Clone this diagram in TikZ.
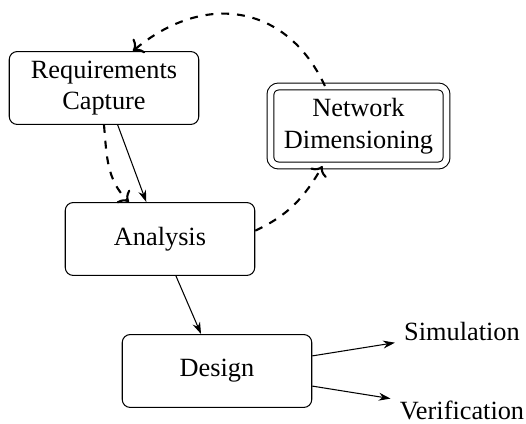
\documentclass[tikz,border=0pt]{standalone}
\usepackage{fontspec}
\setmainfont{Liberation Serif}
\usetikzlibrary{arrows.meta}
\begin{document}
\begin{tikzpicture}[x=0.38pt,y=-0.38pt,
  stage/.style={draw, rounded corners=3pt, align=center,
    minimum width=72pt, minimum height=27.7pt, inner sep=2pt},
  model/.style={draw, double, double distance=2.2pt, rounded corners=3pt,
    align=center, minimum width=66.9pt, minimum height=30pt, inner sep=2pt},
  outcome/.style={inner sep=3.33pt},
  flow/.style={-{Stealth[length=4.5pt,width=3pt]}},
  feedback/.style={thick, dashed, ->}]
  \useasboundingbox (0,0) rectangle (526,424);

  \node[stage] (req) at (104,88) {Requirements\\Capture};
  \node[model] (net) at (358.5,126) {Network\\Dimensioning};
  \node[stage] (ana) at (160,239) {Analysis};
  \node[stage] (des) at (217,371) {Design};
  \node[outcome] (sim) at (462,332) {Simulation};
  \node[outcome] (ver) at (462,410) {Verification};

  \draw[flow] (req) -- (ana);
  \draw[flow] (ana) -- (des);
  \draw[flow] (des.9) -- (sim);
  \draw[flow] (des.-9) -- (ver);

  \draw[feedback] (req.south) to[out=-85,in=135] (ana.130);
  \draw[feedback] (ana.5) to[out=25,in=-120] (net.-132);
  \draw[feedback] (net.130) to[out=115,in=40,looseness=1.2] (req.52);
\end{tikzpicture}
\end{document}
